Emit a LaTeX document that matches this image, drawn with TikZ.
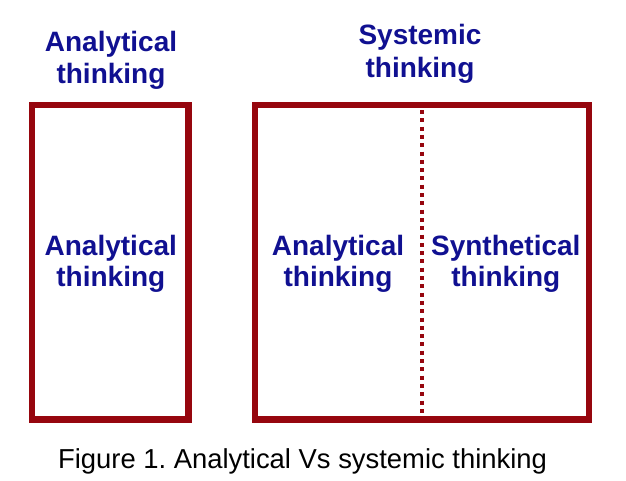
\documentclass[tikz,border=0pt]{standalone}
\usepackage{fontspec}
\setmainfont{Liberation Sans}
\frenchspacing
\definecolor{boxred}{RGB}{150,6,14}
\definecolor{textblue}{RGB}{16,16,145}
\begin{document}
\begin{tikzpicture}[x=1pt,y=-1pt,
  frame/.style={draw=boxred,line width=6.5pt,line join=miter},
  divider/.style={draw=boxred,line width=4pt,dash pattern=on 4pt off 4.3pt},
  lbl/.style={text=textblue,font=\fontsize{28}{32}\selectfont\bfseries,inner sep=0pt,anchor=base},
  captiontext/.style={text=black,font=\fontsize{27.4}{32}\selectfont,inner sep=0pt,anchor=base}]
\useasboundingbox (0,0) rectangle (626,480);
% boxes
\draw[frame] (32,105) rectangle (188.5,419.5);
\draw[frame] (255,105) rectangle (589,419.5);
\coordinate (dtop) at (421.7,110);
\coordinate (dbot) at (421.7,416);
\draw[divider] (dtop) -- (dbot);
% titles
\node[lbl] (t1a) at (111,51.7) {Analytical};
\node[lbl] (t1b) at (111,83.5) {thinking};
\node[lbl] (t2a) at (420,44.5) {Systemic};
\node[lbl] (t2b) at (420,77.5) {thinking};
% inner labels
\node[lbl] (i1a) at (110.8,255) {Analytical};
\node[lbl] (i1b) at (110.8,286.7) {thinking};
\node[lbl] (i2a) at (338,255) {Analytical};
\node[lbl] (i2b) at (338,286.7) {thinking};
\node[lbl] (i3a) at (505.8,255) {Synthetical};
\node[lbl] (i3b) at (505.8,286.7) {thinking};
% caption
\node[captiontext] (caption) at (302.5,468) {Figure 1. Analytical Vs systemic thinking};
\end{tikzpicture}
\end{document}
